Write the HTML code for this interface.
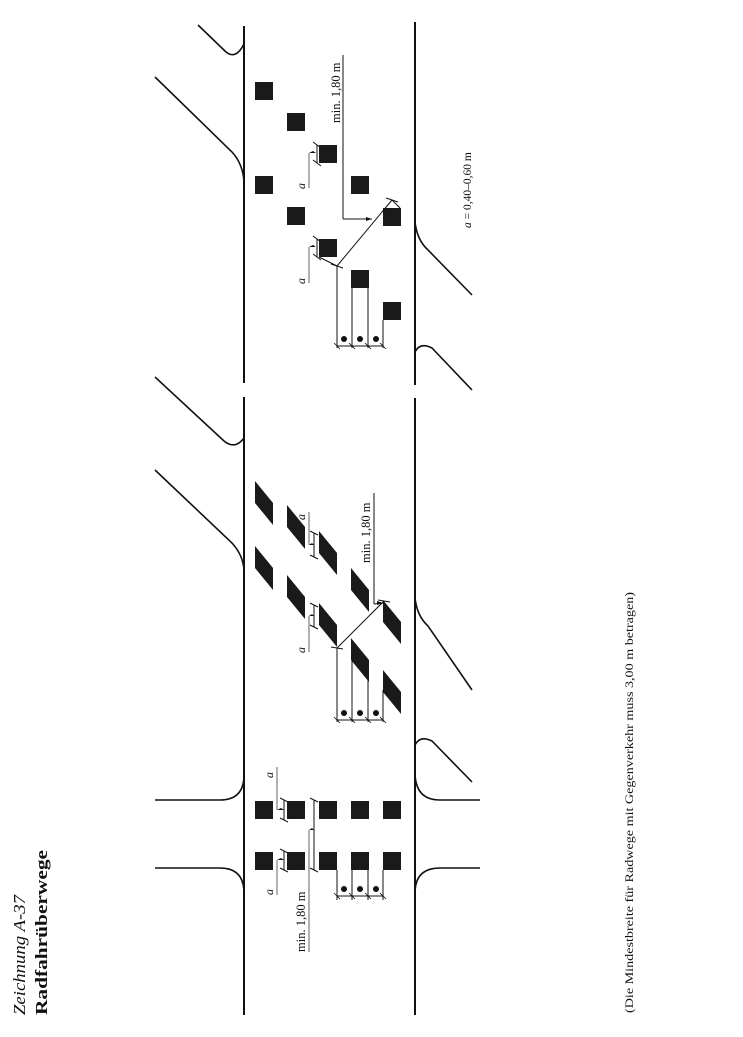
<!DOCTYPE html>
<html><head><meta charset="utf-8"><style>
html,body{margin:0;padding:0;background:#fff;}
svg{display:block;}
text{font-family:"Liberation Serif",serif;fill:#111;}
</style></head><body>
<svg width="743" height="1037" viewBox="0 0 743 1037" xmlns="http://www.w3.org/2000/svg">
<g stroke="#111" fill="none" stroke-width="2">
<line x1="244" y1="26" x2="244" y2="383"/>
<line x1="244" y1="397" x2="244" y2="1015"/>
<line x1="415" y1="22" x2="415" y2="385"/>
<line x1="415" y1="398" x2="415" y2="1015"/>
</g>
<g stroke="#111" fill="none" stroke-width="1.6">
<path d="M198,25 L226,52 Q236,60 244,44"/>
<path d="M155,77 L232,152 Q243,164 244,182"/>
<path d="M155,377 L224,441 Q235,450 244,438"/>
<path d="M155,470 L232,543 Q243,555 244,570"/>
<path d="M415,222 Q417,240 428,250 L472,295"/>
<path d="M415,352 Q420,342 432,348 L472,390"/>
<path d="M415,598 Q417,616 428,626 L472,690"/>
<path d="M415,745 Q420,735 432,741 L472,782"/>
<path d="M155,800 L220,800 Q244,800 244,775"/>
<path d="M155,868 L220,868 Q244,868 244,893"/>
<path d="M480,800 L440,800 Q415,800 415,772"/>
<path d="M480,868 L440,868 Q415,868 415,893"/>
</g>
<g fill="#1a1a1a">
<rect x="255" y="82" width="18" height="18"/>
<rect x="287" y="113" width="18" height="18"/>
<rect x="319" y="145" width="18" height="18"/>
<rect x="255" y="176" width="18" height="18"/>
<rect x="287" y="207" width="18" height="18"/>
<rect x="319" y="239" width="18" height="18"/>
<rect x="351" y="176" width="18" height="18"/>
<rect x="383" y="208" width="18" height="18"/>
<rect x="351" y="270" width="18" height="18"/>
<rect x="383" y="302" width="18" height="18"/>
<polygon points="255,481 273,503 273,525 255,503"/>
<polygon points="255,546 273,568 273,590 255,568"/>
<polygon points="287,505 305,527 305,549 287,527"/>
<polygon points="287,575 305,597 305,619 287,597"/>
<polygon points="319,531 337,553 337,575 319,553"/>
<polygon points="319,603 337,625 337,647 319,625"/>
<polygon points="351,568 369,590 369,612 351,590"/>
<polygon points="351,638 369,660 369,682 351,660"/>
<polygon points="383,600 401,622 401,644 383,622"/>
<polygon points="383,670 401,692 401,714 383,692"/>
<rect x="255" y="801" width="18" height="18"/>
<rect x="287" y="801" width="18" height="18"/>
<rect x="319" y="801" width="18" height="18"/>
<rect x="351" y="801" width="18" height="18"/>
<rect x="383" y="801" width="18" height="18"/>
<rect x="255" y="852" width="18" height="18"/>
<rect x="287" y="852" width="18" height="18"/>
<rect x="319" y="852" width="18" height="18"/>
<rect x="351" y="852" width="18" height="18"/>
<rect x="383" y="852" width="18" height="18"/>
</g>
<g stroke="#111" stroke-width="1" fill="none">
<line x1="317" y1="145" x2="317" y2="163"/><line x1="313" y1="142" x2="321" y2="148"/><line x1="313" y1="160" x2="321" y2="166"/>
<line x1="317" y1="239" x2="317" y2="257"/><line x1="313" y1="236" x2="321" y2="242"/><line x1="313" y1="254" x2="321" y2="260"/>
<line x1="343" y1="55" x2="343" y2="219"/><line x1="343" y1="219" x2="372" y2="219"/>
<line x1="337" y1="266" x2="392" y2="200"/><line x1="319" y1="257" x2="337" y2="266"/><line x1="392" y1="200" x2="400" y2="208"/>
<line x1="331" y1="264" x2="343" y2="268"/><line x1="386" y1="198" x2="398" y2="202"/>
<line x1="337" y1="266" x2="337" y2="348"/><line x1="352" y1="288" x2="352" y2="348"/><line x1="368" y1="288" x2="368" y2="348"/><line x1="383" y1="320" x2="383" y2="348"/>
<line x1="337" y1="346" x2="383" y2="346"/>
<line x1="314" y1="533" x2="314" y2="557"/><line x1="310" y1="531" x2="318" y2="535"/><line x1="310" y1="555" x2="318" y2="559"/>
<line x1="314" y1="605" x2="314" y2="627"/><line x1="310" y1="603" x2="318" y2="607"/><line x1="310" y1="625" x2="318" y2="629"/>
<line x1="374" y1="493" x2="374" y2="604"/><line x1="374" y1="604" x2="383" y2="603"/>
<line x1="337" y1="648" x2="384" y2="601"/><line x1="331" y1="647" x2="343" y2="649"/><line x1="378" y1="600" x2="390" y2="602"/>
<line x1="337" y1="648" x2="337" y2="722"/><line x1="352" y1="660" x2="352" y2="722"/><line x1="368" y1="678" x2="368" y2="722"/><line x1="383" y1="690" x2="383" y2="722"/>
<line x1="337" y1="720" x2="383" y2="720"/>
<line x1="284" y1="800" x2="284" y2="820"/><line x1="280" y1="798" x2="288" y2="802"/><line x1="280" y1="818" x2="288" y2="822"/>
<line x1="284" y1="851" x2="284" y2="870"/><line x1="280" y1="849" x2="288" y2="853"/><line x1="280" y1="868" x2="288" y2="872"/>
<line x1="314" y1="800" x2="314" y2="870"/><line x1="310" y1="798" x2="318" y2="802"/><line x1="310" y1="868" x2="318" y2="872"/>
<line x1="337" y1="870" x2="337" y2="900"/><line x1="352" y1="870" x2="352" y2="900"/><line x1="368" y1="870" x2="368" y2="900"/><line x1="383" y1="870" x2="383" y2="900"/>
<line x1="337" y1="896" x2="383" y2="896"/>
</g>
<g stroke="#111" stroke-width="0.8">
<line x1="334" y1="343" x2="340" y2="349"/><line x1="349" y1="343" x2="355" y2="349"/><line x1="365" y1="343" x2="371" y2="349"/><line x1="380" y1="343" x2="386" y2="349"/>
<line x1="334" y1="717" x2="340" y2="723"/><line x1="349" y1="717" x2="355" y2="723"/><line x1="365" y1="717" x2="371" y2="723"/><line x1="380" y1="717" x2="386" y2="723"/>
<line x1="334" y1="893" x2="340" y2="899"/><line x1="349" y1="893" x2="355" y2="899"/><line x1="365" y1="893" x2="371" y2="899"/><line x1="380" y1="893" x2="386" y2="899"/>
</g>
<g stroke="#888" stroke-width="1.3" fill="none">
<line x1="309" y1="153" x2="309" y2="188"/><line x1="309" y1="247" x2="309" y2="283"/>
<line x1="309" y1="512" x2="309" y2="545"/><line x1="309" y1="616" x2="309" y2="652"/>
<line x1="277" y1="767" x2="277" y2="810"/><line x1="277" y1="860" x2="277" y2="895"/>
<line x1="309" y1="830" x2="309" y2="952"/>
</g>
<g fill="#111">
<path d="M309,153 l7,0 l-3,-2 z M309,247 l7,0 l-3,-2 z M309,545 l5,0 l-2,-2 z M309,616 l5,0 l-2,-2 z M277,810 l7,0 l-3,-2 z M277,860 l7,0 l-3,-2 z M309,830 l5,0 l-2,-2 z"/>
<path d="M372,219 l-6,-2 l0,4 z M383,603 l-6,-2 l0,4 z"/>
<circle cx="344" cy="339" r="3"/><circle cx="360" cy="339" r="3"/><circle cx="376" cy="339" r="3"/>
<circle cx="344" cy="713" r="3"/><circle cx="360" cy="713" r="3"/><circle cx="376" cy="713" r="3"/>
<circle cx="344" cy="889" r="3"/><circle cx="360" cy="889" r="3"/><circle cx="376" cy="889" r="3"/>
</g>
<g font-size="12.5">
<text transform="translate(340,123) rotate(-90)">min. 1,80 m</text>
<text transform="translate(370,563) rotate(-90)">min. 1,80 m</text>
<text transform="translate(305,952) rotate(-90)">min. 1,80 m</text>
<g font-style="italic" font-size="12">
<text transform="translate(305,189) rotate(-90)">a</text>
<text transform="translate(305,284) rotate(-90)">a</text>
<text transform="translate(305,520) rotate(-90)">a</text>
<text transform="translate(305,653) rotate(-90)">a</text>
<text transform="translate(273,778) rotate(-90)">a</text>
<text transform="translate(273,895) rotate(-90)">a</text>
</g>
<text transform="translate(471,228) rotate(-90)" font-size="11.5"><tspan font-style="italic">a</tspan> = 0,40–0,60 m</text>
<text transform="translate(633,1013) rotate(-90)" font-size="12" textLength="421" lengthAdjust="spacingAndGlyphs">(Die Mindestbreite für Radwege mit Gegenverkehr muss 3,00 m betragen)</text>
</g>
<text transform="translate(25,1015) rotate(-90)" font-size="17" font-style="italic" textLength="120" lengthAdjust="spacingAndGlyphs">Zeichnung A-37</text>
<text transform="translate(47,1015) rotate(-90)" font-size="17" font-weight="bold" textLength="165" lengthAdjust="spacingAndGlyphs">Radfahrüberwege</text>
</svg>
</body></html>
